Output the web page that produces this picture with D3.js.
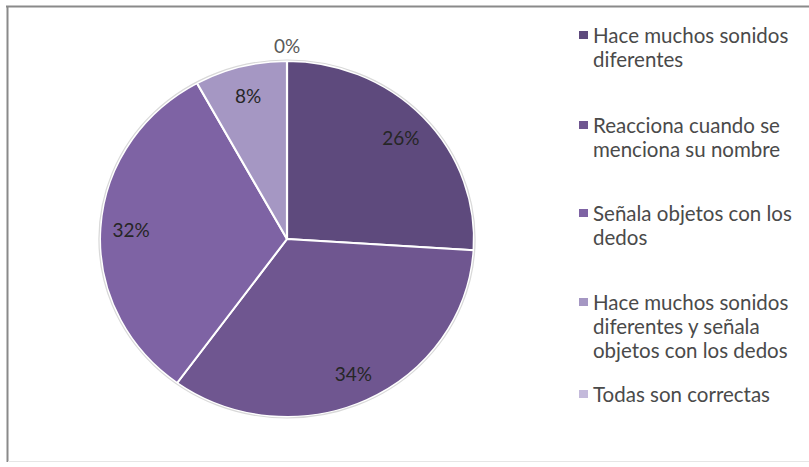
<!DOCTYPE html>
<html><head><meta charset="utf-8">
<script src="https://cdn.jsdelivr.net/npm/d3@7"></script>
<style>body{margin:0;background:#fff}svg{display:block}</style>
</head><body>
<script>
const categories = ["Hace muchos sonidos diferentes","Reacciona cuando se menciona su nombre","Señala objetos con los dedos","Hace muchos sonidos diferentes y señala objetos con los dedos","Todas son correctas"];
const legendLines = [["Hace muchos sonidos","diferentes"],["Reacciona cuando se","menciona su nombre"],["Señala objetos con los","dedos"],["Hace muchos sonidos","diferentes y señala","objetos con los dedos"],["Todas son correctas"]];
const values = [26,34,32,8,0];
const colors = ["#5e4a7d","#6f5690","#7e63a4","#a597c3","#c4badb"];

const W=809,H=467;
const svg=d3.select("body").append("svg").attr("width",W).attr("height",H);
svg.append("rect").attr("width",W).attr("height",H).attr("fill","#fff");
// frame
svg.append("line").attr("x1",7.5).attr("x2",7.5).attr("y1",6).attr("y2",462).attr("stroke","#8a8a8a").attr("stroke-width",2);
svg.append("line").attr("x1",6).attr("x2",W).attr("y1",6.5).attr("y2",6.5).attr("stroke","#8a8a8a").attr("stroke-width",2);
svg.append("line").attr("x1",8).attr("x2",W).attr("y1",461.5).attr("y2",461.5).attr("stroke","#e6e6e6").attr("stroke-width",1);

const cx=287, cy=239, r=178, sx=187/178;
const pie=d3.pie().sort(null).value(d=>d);
const arcs=pie(values);
const arc=d3.arc().innerRadius(0).outerRadius(r);
const g=svg.append("g").attr("transform",`translate(${cx},${cy}) scale(${sx},1)`);
g.selectAll("path").data(arcs).join("path")
  .attr("d",arc).attr("fill",(d,i)=>colors[i])
  .attr("stroke","#fff").attr("stroke-width",2).attr("stroke-linejoin","round");
g.append("ellipse").attr("rx",r+1).attr("ry",r+1).attr("fill","none").attr("stroke","#d9d9d9").attr("stroke-width",1.2);

// labels
const labelArc=d3.arc().innerRadius(r*0.835).outerRadius(r*0.835);
const lab=svg.append("g").attr("font-family","Lato, 'Open Sans', sans-serif").attr("font-size",19);
arcs.forEach((d,i)=>{
  let x,y;
  if(d.value===0){ x=cx; y=cy-r-16; }
  else { const c=labelArc.centroid(d); x=cx+c[0]*sx; y=cy+c[1]; }
  lab.append("text").attr("x",x).attr("y",y).attr("text-anchor","middle").attr("dominant-baseline","central")
    .attr("fill",d.value===0?"#595959":"#262626").text(d3.format(".0%")(d.value/100));
});

// legend
const leg=svg.append("g").attr("font-family","Lato, 'Open Sans', sans-serif").attr("font-size",20.5).attr("fill","#4a4a4a");
const starts=[35,125,213,302,394];
legendLines.forEach((lines,i)=>{
  leg.append("rect").attr("x",579).attr("y",starts[i]-4).attr("width",9).attr("height",8).attr("fill",colors[i]);
  lines.forEach((t,j)=>{
    leg.append("text").attr("x",593).attr("y",starts[i]+j*24).attr("dominant-baseline","central").text(t);
  });
});
</script>
</body></html>
